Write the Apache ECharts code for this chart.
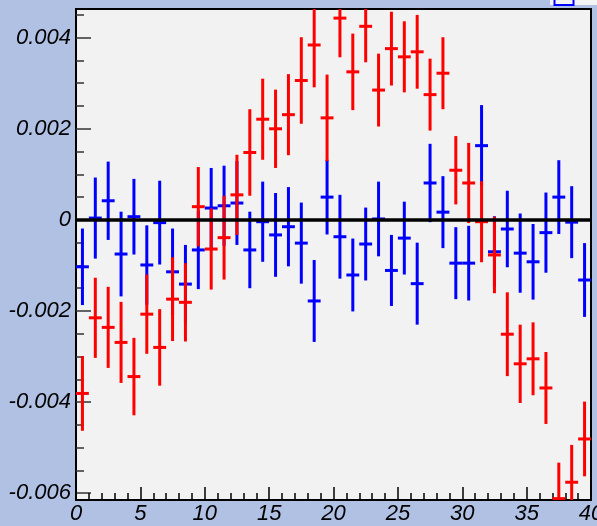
<!DOCTYPE html>
<html>
<head>
<meta charset="utf-8">
<script src="https://cdn.jsdelivr.net/npm/echarts@6/dist/echarts.min.js"></script>
<style>
  html, body { margin: 0; padding: 0; background: #b0c1e3; overflow: hidden; }
  /* canvas is wider than the window so the last x label runs off the right edge */
  #chart { width: 620px; height: 526px; }
</style>
</head>
<body>
<div id="chart"></div>
<script>
// Bin centres (bins of width 1 from 0 to 40)
const binCenters = [0.5, 1.5, 2.5, 3.5, 4.5, 5.5, 6.5, 7.5, 8.5, 9.5,
  10.5, 11.5, 12.5, 13.5, 14.5, 15.5, 16.5, 17.5, 18.5, 19.5,
  20.5, 21.5, 22.5, 23.5, 24.5, 25.5, 26.5, 27.5, 28.5, 29.5,
  30.5, 31.5, 32.5, 33.5, 34.5, 35.5, 36.5, 37.5, 38.5, 39.5];

// Red histogram: contents and errors
const redValues = [-0.00381, -0.00215, -0.00236, -0.00269, -0.00344, -0.00207, -0.00280, -0.00174, -0.00181, 0.00029,
  -0.00064, -0.00039, 0.00055, 0.00148, 0.00221, 0.00200, 0.00231, 0.00306, 0.00384, 0.00224,
  0.00443, 0.00325, 0.00425, 0.00285, 0.00376, 0.00358, 0.00369, 0.00275, 0.00322, 0.00109,
  0.00081, -0.00004, -0.00077, -0.00251, -0.00316, -0.00305, -0.00369, -0.00612, -0.00576, -0.00481];
const redErrors = [0.00082, 0.00088, 0.00089, 0.00089, 0.00085, 0.00087, 0.00084, 0.00092, 0.00086, 0.00087,
  0.00089, 0.00092, 0.00088, 0.00095, 0.00089, 0.00086, 0.00089, 0.00095, 0.00093, 0.00095,
  0.00086, 0.00084, 0.00079, 0.00080, 0.00081, 0.00078, 0.00081, 0.00079, 0.00079, 0.00075,
  0.00088, 0.00089, 0.00084, 0.00092, 0.00086, 0.00080, 0.00079, 0.00079, 0.00082, 0.00082];

// Blue histogram: contents and errors
const blueValues = [-0.00103, 0.00004, 0.00042, -0.00075, 0.00007, -0.00099, -0.00006, -0.00114, -0.00141, -0.00066,
  0.00026, 0.00031, 0.00037, -0.00066, -0.00004, -0.00033, -0.00015, -0.00051, -0.00178, 0.00050,
  -0.00037, -0.00121, -0.00053, 0.00002, -0.00111, -0.00040, -0.00140, 0.00081, 0.00017, -0.00095,
  -0.00095, 0.00163, -0.00070, -0.00020, -0.00073, -0.00092, -0.00028, 0.00050, -0.00005, -0.00132];
const blueErrors = [0.00084, 0.00089, 0.00086, 0.00093, 0.00083, 0.00087, 0.00092, 0.00095, 0.00086, 0.00086,
  0.00088, 0.00088, 0.00092, 0.00084, 0.00088, 0.00092, 0.00087, 0.00089, 0.00090, 0.00082,
  0.00092, 0.00080, 0.00080, 0.00082, 0.00078, 0.00080, 0.00090, 0.00086, 0.00079, 0.00079,
  0.00082, 0.00089, 0.00078, 0.00084, 0.00087, 0.00083, 0.00088, 0.00081, 0.00079, 0.00081];

// Axis ticks
const yMajorTicks = [-0.006, -0.004, -0.002, 0, 0.002, 0.004];
const yMinorTicks = [-0.0055, -0.0050, -0.0045, -0.0035, -0.0030, -0.0025, -0.0015, -0.0010, -0.0005,
  0.0005, 0.0010, 0.0015, 0.0025, 0.0030, 0.0035, 0.0045];

const Y_MIN = -0.00615, Y_MAX = 0.00463;
const BIN_WIDTH = 1;

function toTriples(values, errors) {
  return binCenters.map((x, i) => [x, values[i], errors[i]]);
}

function errorBars(color) {
  return function (params, api) {
    const x = api.value(0), y = api.value(1), e = api.value(2);
    const l = api.coord([x - BIN_WIDTH / 2, y]);
    const r = api.coord([x + BIN_WIDTH / 2, y]);
    const t = api.coord([x, y + e]);
    const b = api.coord([x, y - e]);
    const style = { stroke: color, lineWidth: 3 };
    return {
      type: 'group',
      children: [
        { type: 'line', shape: { x1: t[0], y1: t[1], x2: b[0], y2: b[1] }, style },
        { type: 'line', shape: { x1: l[0], y1: l[1], x2: r[0], y2: r[1] }, style }
      ]
    };
  };
}

const labelFont = {
  fontFamily: 'Liberation Sans',
  fontStyle: 'italic',
  fontSize: 22,
  color: '#000'
};

function fmt(v) {
  const s = Number(v.toFixed(4));
  return s === 0 ? '0' : String(s);
}

const chart = echarts.init(document.getElementById('chart'), null, { renderer: 'canvas' });

chart.setOption({
  animation: false,
  backgroundColor: '#b0c1e3',
  grid: {
    left: 76, right: 29, top: 9, bottom: 26,
    show: true,
    backgroundColor: '#f2f2f2',
    borderColor: '#000',
    borderWidth: 2
  },
  xAxis: {
    type: 'value',
    min: 0, max: 40, interval: 5,
    axisLine: { show: true, onZero: false, lineStyle: { color: '#000', width: 2 } },
    axisTick: { show: true, inside: true, length: 13, lineStyle: { color: '#000', width: 1.5 } },
    minorTick: { show: true, splitNumber: 5, length: 7, lineStyle: { color: '#000', width: 1.5 } },
    splitLine: { show: false },
    axisLabel: Object.assign({ margin: 3, alignMinLabel: 'center', alignMaxLabel: 'center' }, labelFont)
  },
  yAxis: [
    {
      type: 'value',
      min: Y_MIN, max: Y_MAX,
      axisLine: { show: true, onZero: false, lineStyle: { color: '#000', width: 2 } },
      axisTick: { show: true, inside: true, length: 15, customValues: yMajorTicks,
        lineStyle: { color: '#333', width: 1.5 } },
      splitLine: { show: false },
      axisLabel: Object.assign({ margin: 5, customValues: yMajorTicks, formatter: fmt }, labelFont)
    },
    {
      type: 'value',
      position: 'left',
      min: Y_MIN, max: Y_MAX,
      axisLine: { show: false },
      axisTick: { show: true, inside: true, length: 8, customValues: yMinorTicks,
        lineStyle: { color: '#333', width: 1.5 } },
      splitLine: { show: false },
      axisLabel: { show: false }
    }
  ],
  series: [
    {
      name: 'blue',
      type: 'custom',
      clip: true,
      renderItem: errorBars('#0000ff'),
      data: toTriples(blueValues, blueErrors),
      z: 2
    },
    {
      name: 'red',
      type: 'custom',
      clip: true,
      renderItem: errorBars('#ff0000'),
      data: toTriples(redValues, redErrors),
      z: 3
    },
    {
      name: 'zero',
      type: 'line',
      data: [[0, 0], [40, 0]],
      symbol: 'none',
      lineStyle: { color: '#000', width: 3.5 },
      z: 4
    }
  ],
  graphic: [
    { type: 'rect', shape: { x: 550, y: -2, width: 70, height: 7 }, style: { fill: '#f4f4f4' }, z: 10 },
    { type: 'rect', shape: { x: 554.5, y: -3, width: 19, height: 8 }, style: { fill: 'none', stroke: '#0000ff', lineWidth: 2 }, z: 11 }
  ]
});
</script>
</body>
</html>
